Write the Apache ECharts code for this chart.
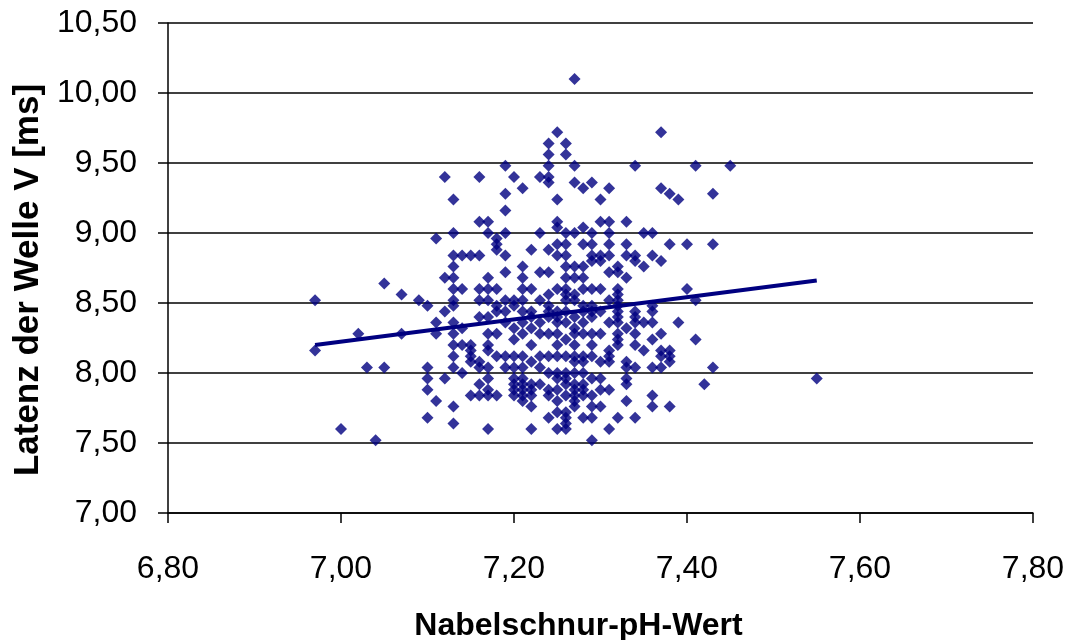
<!DOCTYPE html>
<html>
<head>
<meta charset="utf-8">
<script src="https://cdn.jsdelivr.net/npm/echarts@6/dist/echarts.min.js"></script>
<style>
  html, body { margin: 0; padding: 0; background: #fff; }
  #chart { width: 1074px; height: 640px; }
</style>
</head>
<body>
<div id="chart"></div>
<script>
// Umbilical cord pH (x) and latency of wave V in ms (y), grouped by pH value
const phValues = [
  6.97, 7.00, 7.02, 7.03, 7.04, 7.05, 7.07, 7.09, 7.10, 7.11, 7.12, 7.13, 7.14, 7.15,
  7.16, 7.17, 7.18, 7.19, 7.20, 7.21, 7.22, 7.23, 7.24, 7.25, 7.26, 7.27, 7.28, 7.29,
  7.30, 7.31, 7.32, 7.33, 7.34, 7.35, 7.36, 7.37, 7.38, 7.39, 7.40, 7.41, 7.42, 7.43,
  7.45, 7.55
];
const latencyByPh = [
  [8.52, 8.16],
  [7.60],
  [8.28],
  [8.04],
  [7.52],
  [8.64, 8.04],
  [8.56, 8.28],
  [8.52],
  [8.48, 8.04, 7.96, 7.88, 7.68],
  [8.96, 8.36, 8.28, 7.80],
  [9.40, 8.68, 8.44, 7.96],
  [9.24, 9.00, 8.84, 8.76, 8.68, 8.60, 8.52, 8.48, 8.36, 8.28, 8.20, 8.12, 8.04, 7.76, 7.64],
  [8.84, 8.60, 8.32, 8.20, 8.00],
  [8.84, 8.20, 8.16, 8.12, 8.08, 7.84],
  [9.40, 9.08, 8.84, 8.60, 8.52, 8.40, 8.08, 8.04, 7.92, 7.84],
  [9.08, 9.00, 8.68, 8.60, 8.52, 8.40, 8.28, 8.20, 8.16, 8.04, 7.96, 7.88, 7.84, 7.60],
  [8.96, 8.92, 8.88, 8.60, 8.48, 8.44, 8.28, 8.12, 7.84],
  [9.48, 9.28, 9.16, 9.00, 8.84, 8.72, 8.52, 8.44, 8.36, 8.12, 8.04],
  [9.40, 8.52, 8.48, 8.32, 8.24, 8.12, 8.04, 7.96, 7.92, 7.88, 7.84],
  [9.32, 8.76, 8.68, 8.60, 8.52, 8.44, 8.36, 8.28, 8.12, 8.04, 7.96, 7.92, 7.88, 7.84, 7.80],
  [8.88, 8.60, 8.44, 8.40, 8.32, 8.20, 8.08, 7.92, 7.88, 7.84, 7.76, 7.60],
  [9.40, 9.00, 8.72, 8.52, 8.36, 8.28, 8.12, 8.04, 7.92],
  [9.64, 9.56, 9.48, 9.40, 9.36, 8.88, 8.72, 8.56, 8.48, 8.44, 8.40, 8.28, 8.12, 8.00, 7.88, 7.84, 7.68],
  [9.72, 9.24, 9.08, 9.04, 8.92, 8.84, 8.60, 8.44, 8.40, 8.36, 8.28, 8.20, 8.12, 8.00, 7.96, 7.88, 7.80, 7.72, 7.60],
  [9.64, 9.56, 9.00, 8.92, 8.84, 8.76, 8.68, 8.60, 8.56, 8.52, 8.44, 8.36, 8.24, 8.12, 8.00, 7.96, 7.92, 7.84, 7.72, 7.68, 7.64, 7.60],
  [10.10, 9.48, 9.36, 9.00, 8.76, 8.68, 8.56, 8.52, 8.40, 8.32, 8.28, 8.20, 8.12, 8.08, 8.00, 7.92, 7.88, 7.84, 7.80, 7.76],
  [9.32, 9.04, 8.92, 8.76, 8.68, 8.60, 8.48, 8.44, 8.36, 8.28, 8.12, 8.08, 8.00, 7.92, 7.88, 7.84, 7.68],
  [9.36, 9.00, 8.92, 8.84, 8.80, 8.60, 8.48, 8.44, 8.40, 8.28, 8.20, 8.12, 7.96, 7.84, 7.76, 7.68, 7.52],
  [9.24, 9.08, 8.84, 8.80, 8.60, 8.44, 8.28, 8.08, 7.96, 7.88, 7.76],
  [9.32, 9.08, 9.00, 8.92, 8.84, 8.72, 8.52, 8.36, 8.16, 8.12, 8.08, 7.88, 7.60],
  [8.76, 8.72, 8.60, 8.56, 8.52, 8.48, 8.44, 8.40, 8.36, 8.28, 8.24, 8.20, 7.68],
  [9.08, 8.92, 8.84, 8.68, 8.32, 8.08, 8.04, 7.96, 7.92, 7.80],
  [9.48, 8.84, 8.80, 8.44, 8.40, 8.36, 8.28, 8.20, 8.04, 7.68],
  [9.00, 8.76, 8.36, 8.16],
  [9.00, 8.84, 8.48, 8.44, 8.36, 8.24, 8.04, 7.84, 7.76],
  [9.72, 9.32, 8.80, 8.28, 8.16, 8.12, 8.04],
  [9.28, 8.92, 8.16, 8.12, 8.08, 7.76],
  [9.24, 8.36],
  [8.92, 8.60],
  [9.48, 8.52, 8.24],
  [7.92],
  [9.28, 8.92, 8.04],
  [9.48],
  [7.96]
];
// Linear trend line end points
const trendX = [6.97, 7.55];
const trendY = [8.20, 8.66];

const xTicks = { min: 6.8, max: 7.8, interval: 0.2 };
const yTicks = { min: 7.0, max: 10.5, interval: 0.5 };

const points = [];
phValues.forEach((ph, i) => {
  latencyByPh[i].forEach(v => points.push([ph, v]));
});
const trend = trendX.map((x, i) => [x, trendY[i]]);

const fmt = v => v.toFixed(2).replace('.', ',');
const FONT = '"Liberation Sans", Arial, sans-serif';

const chart = echarts.init(document.getElementById('chart'), null, { renderer: 'canvas' });
chart.setOption({
  animation: false,
  backgroundColor: '#fff',
  grid: { left: 168, right: 41, top: 23, bottom: 127, containLabel: false, outerBoundsMode: 'none' },
  xAxis: {
    type: 'value',
    min: xTicks.min, max: xTicks.max, interval: xTicks.interval,
    name: 'Nabelschnur-pH-Wert',
    nameLocation: 'middle',
    nameGap: 97,
    nameTextStyle: { fontFamily: FONT, fontSize: 32, fontWeight: 'bold', color: '#000', padding: [0, 44, 0, 0] },
    axisLine: { show: true, onZero: false, lineStyle: { color: '#000', width: 1.5 } },
    axisTick: { show: true, inside: false, length: 10, lineStyle: { color: '#000', width: 1.5 } },
    axisLabel: { formatter: fmt, fontFamily: FONT, fontSize: 32, color: '#000', margin: 40 },
    splitLine: { show: false }
  },
  yAxis: {
    type: 'value',
    min: yTicks.min, max: yTicks.max, interval: yTicks.interval,
    name: 'Latenz der Welle V [ms]',
    nameLocation: 'middle',
    nameGap: 115,
    nameRotate: 90,
    nameTextStyle: { fontFamily: FONT, fontSize: 35, fontWeight: 'bold', color: '#000', padding: [0, 24, 0, 0] },
    axisLine: { show: true, onZero: false, lineStyle: { color: '#000', width: 1.5 } },
    axisTick: { show: true, inside: false, length: 10, lineStyle: { color: '#000', width: 1.5 } },
    axisLabel: { formatter: fmt, fontFamily: FONT, fontSize: 32, color: '#000', margin: 31 },
    splitLine: { show: true, lineStyle: { color: '#000', width: 1.5 } }
  },
  series: [
    {
      type: 'scatter',
      data: points,
      symbol: 'diamond',
      symbolSize: [12, 12],
      itemStyle: { color: '#000080' },
      z: 2
    },
    {
      type: 'line',
      data: trend,
      showSymbol: false,
      symbol: 'none',
      lineStyle: { color: '#000080', width: 4 },
      z: 3
    }
  ]
});
</script>
</body>
</html>
